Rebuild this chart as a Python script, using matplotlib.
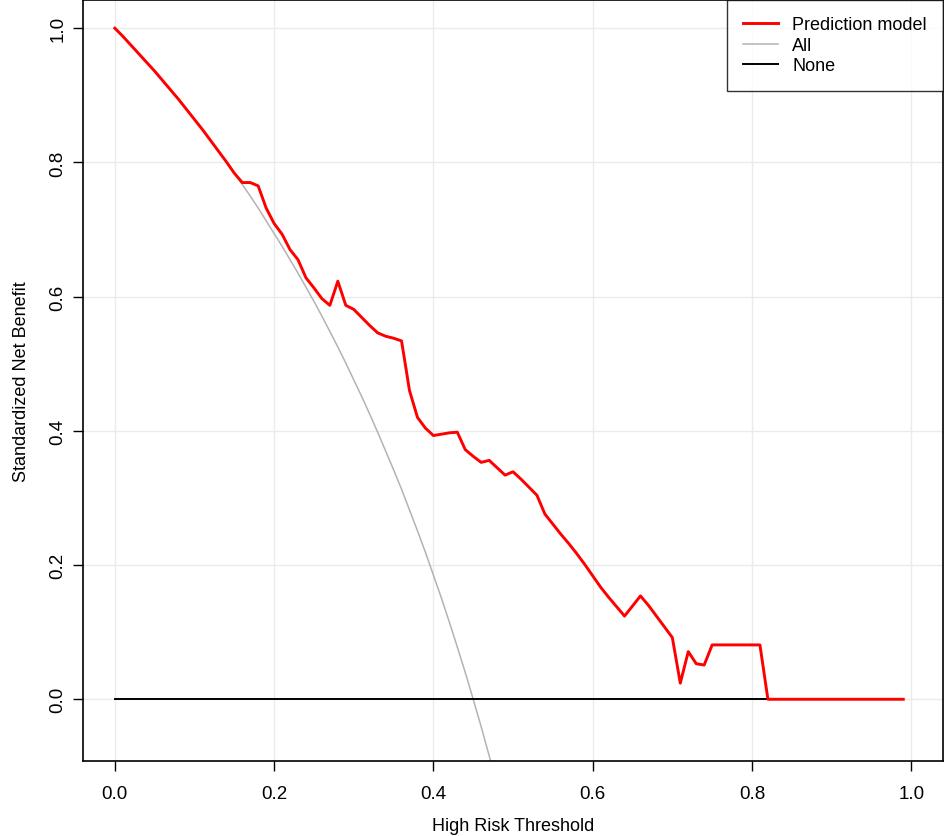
import numpy as np
import matplotlib.pyplot as plt

plt.rcParams['font.family'] = ['Liberation Sans', 'DejaVu Sans']

# thresholds for the model curve (0.00 .. 0.99)
thresholds = [round(0.01 * i, 2) for i in range(100)]
model_nb = [1.000, 0.988, 0.975, 0.962, 0.949, 0.936, 0.922, 0.908, 0.894, 0.879,
            0.864, 0.849, 0.833, 0.817, 0.801, 0.784, 0.770, 0.770, 0.765, 0.732,
            0.709, 0.693, 0.670, 0.655, 0.628, 0.613, 0.597, 0.587, 0.623, 0.587,
            0.581, 0.569, 0.557, 0.546, 0.541, 0.538, 0.534, 0.460, 0.420, 0.404,
            0.393, 0.395, 0.397, 0.398, 0.372, 0.362, 0.353, 0.356, 0.345, 0.334,
            0.339, 0.328, 0.316, 0.304, 0.276, 0.261, 0.246, 0.232, 0.217, 0.201,
            0.184, 0.167, 0.152, 0.138, 0.124, 0.139, 0.154, 0.140, 0.124, 0.108,
            0.092, 0.024, 0.071, 0.053, 0.051, 0.081, 0.081, 0.081, 0.081, 0.081,
            0.081, 0.081, 0.000, 0.000, 0.000, 0.000, 0.000, 0.000, 0.000, 0.000,
            0.000, 0.000, 0.000, 0.000, 0.000, 0.000, 0.000, 0.000, 0.000, 0.000]

# "All" (treat everyone) curve, 0.00 .. 0.49
all_x = [round(0.01 * i, 2) for i in range(50)]
all_nb = [1.000, 0.988, 0.975, 0.962, 0.949, 0.936, 0.922, 0.908, 0.894, 0.879,
          0.864, 0.849, 0.833, 0.817, 0.801, 0.784, 0.767, 0.750, 0.732, 0.713,
          0.694, 0.675, 0.655, 0.635, 0.614, 0.593, 0.571, 0.548, 0.525, 0.501,
          0.476, 0.451, 0.425, 0.398, 0.370, 0.342, 0.313, 0.282, 0.251, 0.219,
          0.185, 0.151, 0.115, 0.078, 0.040, 0.000, -0.041, -0.084, -0.128, -0.174]

none_x = [0.0, 0.99]
none_nb = [0.0, 0.0]

fig = plt.figure(figsize=(9.45, 8.37), dpi=100)
ax = fig.add_axes([0.0878, 0.0896, 0.9102, 0.9092])

ax.grid(True, color='#ebebeb', linewidth=1)
ax.set_axisbelow(True)

ax.plot(all_x, all_nb, color='#b3b3b3', linewidth=1.1, label='All')
ax.plot(none_x, none_nb, color='black', linewidth=1.4, label='None')
ax.plot(thresholds, model_nb, color='#ff0000', linewidth=2.1, label='Prediction model')

ax.set_xlim(-0.04, 1.04)
ax.set_ylim(-0.092, 1.042)
ax.set_xticks([0.0, 0.2, 0.4, 0.6, 0.8, 1.0])
ax.set_yticks([0.0, 0.2, 0.4, 0.6, 0.8, 1.0])
ax.set_xticklabels(['0.0', '0.2', '0.4', '0.6', '0.8', '1.0'])
ax.set_yticklabels(['0.0', '0.2', '0.4', '0.6', '0.8', '1.0'], rotation=90, va='center')
ax.tick_params(direction='out', length=7, width=1, labelsize=13.5)
ax.tick_params(axis='x', pad=10)
ax.tick_params(axis='y', pad=5)
for s in ax.spines.values():
    s.set_linewidth(1.2)

ax.set_xlabel('High Risk Threshold', fontsize=13, labelpad=11)
ax.set_ylabel('Standardized Net Benefit', fontsize=13, labelpad=14)

h, l = ax.get_legend_handles_labels()
order = [2, 0, 1]
leg = ax.legend([h[i] for i in order], [l[i] for i in order], loc='upper right',
                fontsize=13, frameon=True, fancybox=False, borderaxespad=0,
                handlelength=1.9, handletextpad=0.8, borderpad=0.9, labelspacing=0.2)
leg.get_frame().set_edgecolor('black')
leg.get_frame().set_linewidth(1.0)

fig.savefig('out.png', dpi=100)
